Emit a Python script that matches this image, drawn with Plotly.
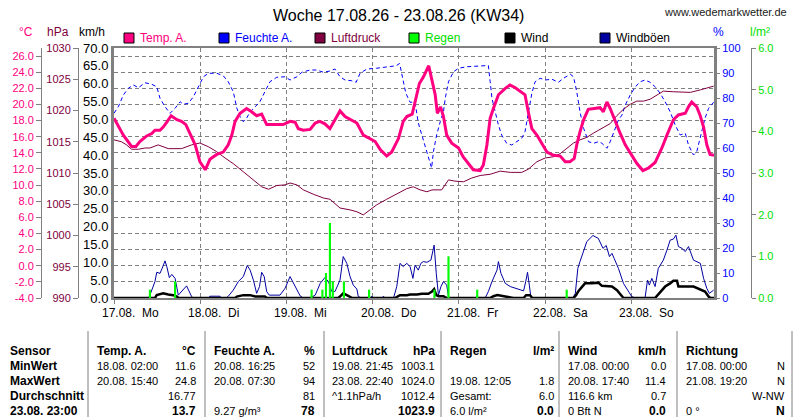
import plotly.graph_objects as go

# x values are hours since 17.08. 00:00
temp_h = [0, 2.6, 4.9, 6.1, 7.2, 9.1, 10.5, 11.4, 12.8, 13.7, 14.7, 15.9, 17.5, 18.8, 20.0, 21.2, 22.6, 23.9,
          25.4, 26.7, 28.6, 30.4, 31.8, 32.8, 33.7, 35.1, 36.9, 38.3, 39.7, 41.1, 42.5, 45.3, 47.1, 49.0, 50.4,
          51.3, 52.7, 54.6, 56.0, 57.3, 58.7, 60.1, 61.5, 62.9, 64.3, 65.7, 67.6, 69.4, 71.3, 72.7, 74.1, 75.9,
          77.3, 79.2, 80.5, 81.5, 83.0, 83.8, 85.0, 86.1, 87.6, 88.4, 89.4, 90.0, 90.9, 91.7, 92.6, 94.0, 95.9,
          97.2, 98.6, 100.0, 101.9, 102.8, 103.8, 104.7, 105.6, 107.0, 108.9, 110.2, 111.6, 113.0, 114.4, 115.3,
          116.3, 117.7, 119.1, 120.5, 122.3, 124.2, 125.6, 126.9, 128.1, 128.8, 129.7, 130.7, 132.0, 133.9, 135.3,
          136.2, 137.2, 138.1, 139.5, 140.9, 142.3, 143.7, 145.5, 147.2, 148.7, 150.6, 152.5, 153.9, 155.7, 157.1,
          159.0, 159.9, 160.8, 162.2, 163.1, 164.1, 165.0, 165.9, 167.0]
temp_c = [18.3, 16.2, 14.8, 14.8, 15.4, 16.1, 16.4, 16.8, 16.8, 17.2, 17.8, 18.6, 18.1, 17.9, 17.5, 16.4, 15.0, 12.9,
          11.9, 13.2, 13.8, 14.1, 15.0, 16.2, 17.9, 18.9, 19.5, 19.1, 18.6, 18.8, 17.5, 17.5, 17.5, 17.9, 17.8,
          17.0, 16.8, 16.9, 17.7, 17.9, 17.6, 17.0, 18.1, 19.2, 18.5, 18.2, 17.7, 16.2, 15.7, 15.4, 14.4, 13.6,
          14.1, 15.8, 17.9, 18.5, 18.8, 20.3, 22.6, 23.4, 24.8, 23.2, 21.2, 18.9, 19.7, 18.5, 16.2, 15.2, 14.6,
          13.5, 12.7, 11.9, 11.8, 12.5, 15.0, 18.3, 19.5, 21.2, 22.0, 22.4, 22.1, 21.6, 21.2, 19.1,
          17.0, 16.2, 15.2, 14.1, 13.7, 13.6, 12.9, 12.9, 13.3, 15.0, 16.6, 18.1, 19.4, 19.5, 19.6,
          19.1, 20.3, 19.5, 17.9, 16.4, 15.0, 14.0, 12.7, 11.8, 12.1, 12.8, 14.6, 16.2, 18.1, 18.7,
          18.9, 19.7, 20.3, 19.7, 18.7, 17.2, 15.0, 13.8, 13.7]

hum_h = [0, 1.2, 2.6, 4.0, 5.4, 6.8, 8.6, 10.5, 11.9, 12.8, 14.2, 15.6, 17.0, 18.4, 19.3, 20.7, 22.1, 23.5, 24.9,
         26.3, 28.6, 30.4, 31.8, 33.2, 34.2, 35.1, 36.0, 36.9, 37.9, 39.3, 40.6, 42.0, 43.4, 45.3, 47.6, 49.0,
         50.9, 52.3, 54.6, 56.4, 58.3, 60.1, 61.5, 62.9, 64.3, 66.2, 67.4, 68.5, 70.4, 73.1, 75.9, 78.5, 79.5,
         80.3, 81.2, 82.4, 83.8, 84.7, 86.1, 87.5, 88.4, 88.9, 89.8, 90.8, 91.7, 92.2, 93.1, 94.5, 95.9, 98.2,
         101.0, 103.3, 104.2, 104.7, 105.2, 106.1, 107.0, 107.9, 109.3, 110.7, 112.1, 113.5, 114.4, 115.3, 116.3,
         117.2, 118.6, 120.0, 121.9, 123.7, 125.1, 127.0, 127.9, 128.8, 129.7, 130.7, 132.1, 133.5, 134.8, 135.8,
         137.2, 138.1, 139.5, 140.4, 141.4, 142.3, 143.7, 145.1, 146.5, 147.8, 149.2, 150.6, 152.0, 153.4, 154.8,
         156.2, 157.6, 159.0, 159.9, 161.3, 162.2, 163.2, 164.5, 165.5, 166.9]
hum_pct = [73.9, 76.5, 81.2, 83.9, 85.2, 84.1, 86.1, 85.5, 84.5, 79.9, 76.5, 73.9, 75.9, 78.5, 77.5, 77.9, 80.5, 84.5,
           88.5, 89.9, 89.9, 88.9, 86.5, 82.5, 75.9, 72.5, 70.5, 71.9, 74.5, 76.5, 78.5, 82.5, 86.5, 88.3, 88.5,
           87.2, 88.5, 90.3, 91.2, 91.2, 90.3, 90.8, 91.6, 88.5, 87.2, 86.9, 86.3, 89.9, 91.6, 91.9, 92.5, 92.9,
           93.8, 88.0, 82.0, 78.3, 78.3, 70.0, 63.2, 57.2, 52.0, 58.5, 65.2, 70.5, 74.5, 79.9, 86.5, 90.5, 91.9,
           92.5, 92.8, 93.2, 93.0, 86.5, 79.9, 74.5, 69.2, 65.2, 61.9, 61.2, 62.5, 63.9, 66.5, 74.5, 81.9, 86.5,
           87.9, 87.2, 87.5, 86.3, 87.9, 89.5, 88.5, 82.5, 74.5, 67.9, 62.5, 61.9, 62.5, 61.9, 59.9, 62.5, 67.9,
           71.2, 73.2, 77.2, 81.2, 84.5, 86.5, 87.2, 86.3, 84.5, 81.9, 78.5, 74.5, 69.2, 65.2, 65.9, 61.2, 57.2,
           58.5, 63.9, 71.9, 75.9, 78.3]

press_h = [0, 2.1, 3.5, 4.9, 6.8, 8.6, 10.0, 12.3, 15.1, 18.8, 21.6, 23.9, 26.3, 28.6, 30.9, 33.2, 36.0, 38.8, 41.1,
           43.0, 45.3, 47.6, 49.0, 50.9, 52.7, 55.5, 58.3, 60.1, 62.9, 65.7, 67.6, 69.4, 71.3, 73.1, 75.9, 78.7,
           81.5, 83.3, 85.2, 87.1, 88.5, 91.2, 93.1, 94.9, 97.3, 99.6, 101.9, 104.7, 107.5, 110.3, 113.5, 115.3,
           117.7, 120.0, 122.3, 124.2, 126.0, 127.9, 129.7, 131.6, 133.5, 135.8, 138.1, 140.0, 141.8, 143.7, 145.5,
           147.4, 149.2, 151.5, 152.9, 155.7, 158.1, 160.4, 163.2, 165.0, 166.9]
press_hpa = [1015.3, 1015.0, 1014.5, 1013.8, 1013.8, 1014.0, 1014.0, 1014.5, 1013.9, 1013.9, 1014.5, 1014.8, 1014.2,
             1013.4, 1012.4, 1011.5, 1010.2, 1008.9, 1007.8, 1007.4, 1008.0, 1008.1, 1008.4, 1008.1, 1007.3, 1006.6,
             1006.0, 1005.8, 1004.4, 1004.1, 1003.8, 1003.3, 1004.2, 1004.9, 1005.8, 1006.7, 1007.5, 1007.8, 1007.3,
             1007.0, 1007.3, 1007.3, 1008.9, 1008.7, 1008.6, 1009.2, 1009.6, 1009.8, 1010.3, 1010.1, 1010.1, 1010.6,
             1011.8, 1012.4, 1012.6, 1013.1, 1013.9, 1014.8, 1015.3, 1015.7, 1016.4, 1017.2, 1017.9, 1019.2, 1020.2,
             1021.0, 1021.5, 1021.5, 1021.8, 1022.6, 1023.1, 1023.0, 1022.9, 1022.9, 1023.3, 1023.6, 1023.9]

gust_h = [0, 9.6, 10.0, 11.4, 11.9, 12.8, 13.4, 14.2, 14.7, 15.4, 16.1, 17.0, 17.9, 18.8, 20.2, 21.6, 22.1, 26.2,
          26.7, 29.5, 29.8, 31.2, 31.8, 33.2, 34.6, 36.0, 37.1, 37.9, 38.8, 39.7, 40.5, 41.1, 41.8, 42.5, 43.2,
          46.2, 47.6, 49.0, 50.4, 51.8, 52.7, 54.6, 56.0, 57.4, 58.7, 59.7, 60.6, 61.5, 62.9, 63.8, 64.8, 65.7,
          66.6, 67.6, 68.0, 69.0, 71.3, 71.8, 72.1, 74.6, 75.0, 75.4, 77.8, 78.7, 79.6, 80.5, 81.5, 82.4, 83.2,
          83.8, 84.7, 85.4, 86.1, 87.1, 88.2, 88.7, 89.1, 89.7, 90.3, 91.0, 91.7, 92.6, 93.1, 93.5, 103.3, 104.2,
          105.2, 106.6, 107.0, 107.7, 108.9, 110.3, 112.1, 114.0, 114.6, 115.1, 115.6, 116.0, 116.7, 127.7, 128.4,
          129.1, 129.7, 130.7, 131.6, 133.3, 134.8, 136.1, 137.0, 137.9, 138.6, 139.2, 140.4, 141.8, 143.2, 144.1,
          145.1, 147.8, 148.5, 149.0, 149.7, 150.6, 151.5, 152.9, 153.9, 154.8, 155.7, 156.4, 157.1, 158.1, 159.0,
          159.9, 161.3, 162.2, 163.2, 164.1, 165.0, 165.7, 166.9]
gust_kmh = [0, 0, 0.8, 4.6, 7.2, 6.9, 8.3, 10.4, 8.8, 5.7, 6.6, 5.5, 0.8, 1.8, 3.4, 0.4, 0, 0, 0.5, 0.5, 0, 0, 0.5,
            2.2, 4.6, 6.0, 9.1, 7.8, 5.0, 1.3, 3.2, 7.2, 6.0, 1.8, 0.8, 0.8, 2.7, 6.0, 3.2, 0.6, 0, 0, 0.8, 4.1,
            5.7, 4.6, 1.8, 1.8, 5.0, 11.6, 9.7, 6.0, 3.6, 2.5, 0.4, 0, 0, 0.5, 0, 0, 0.5, 0, 0, 3.2, 9.7, 8.8,
            9.7, 8.8, 5.5, 9.2, 7.8, 9.7, 10.2, 10.0, 10.6, 13.4, 14.8, 6.9, 0.8, 3.2, 4.6, 3.6, 0.4, 0, 0, 1.8,
            4.6, 7.8, 10.2, 6.9, 4.1, 3.2, 2.7, 2.0, 4.6, 7.2, 3.6, 0.4, 0, 0, 1.3, 8.3, 10.2, 13.0, 15.8, 17.5,
            16.7, 13.9, 14.7, 11.6, 12.5, 11.1, 8.3, 4.1, 1.8, 0.4, 0, 0, 5.0, 3.6, 5.5, 3.2, 8.3, 10.6, 13.4,
            16.2, 16.5, 17.6, 14.4, 13.9, 13.0, 14.4, 10.6, 10.2, 9.7, 5.5, 2.7, 1.3, 2.2]

wind_h = [0, 11.4, 11.9, 13.7, 15.1, 16.5, 17.5, 17.9, 33.7, 34.2, 36.0, 37.9, 39.3, 40.2, 42.0, 42.6, 62.4, 62.9,
          63.8, 64.8, 65.7, 66.3, 78.2, 79.6, 81.5, 82.4, 84.3, 85.7, 87.5, 88.5, 89.1, 89.7, 90.3, 91.7, 92.6,
          104.7, 105.6, 106.7, 108.9, 111.2, 114.0, 114.7, 115.8, 116.4, 127.9, 128.6, 129.3, 131.1, 133.0, 134.8,
          135.8, 138.6, 140.0, 141.4, 141.8, 150.6, 151.5, 153.4, 154.8, 155.7, 156.7, 157.1, 161.3, 163.2, 164.5,
          165.5, 166.0, 167.0]
wind_kmh = [0, 0, 0.8, 1.3, 1.0, 0.8, 0.4, 0, 0, 0.4, 0.8, 0.8, 0.4, 0.4, 0.4, 0, 0, 0.4, 1.3, 0.8, 0.4, 0, 0,
            0.8, 0.8, 1.0, 1.0, 1.2, 1.2, 1.8, 2.5, 0.8, 0.5, 0.5, 0, 0, 0.5, 0.8, 0.4, 0, 0, 0.8, 0.8, 0, 0,
            0.8, 2.0, 4.1, 4.1, 4.3, 3.4, 3.2, 2.2, 0.4, 0, 0, 1.0, 3.2, 4.1, 4.8, 4.8, 3.2, 3.2, 2.5, 1.8, 0.4,
            0, 0]

rain_h = [10.0, 17.0, 55.0, 58.0, 59.0, 60.1, 60.9, 64.0, 71.0, 89.2, 93.1, 101.1, 126.0]
rain_mm = [0.2, 0.4, 0.2, 0.2, 0.6, 1.8, 0.4, 0.4, 0.2, 0.2, 1.0, 0.2, 0.2]

day_hours = [0, 24, 48, 72, 96, 120, 144]
day_labels = ["17.08.\u00a0 Mo", "18.08.\u00a0 Di", "19.08.\u00a0 Mi", "20.08.\u00a0 Do",
              "21.08.\u00a0 Fr", "22.08.\u00a0 Sa", "23.08.\u00a0 So"]
temp_ticks = [-4, -2, 0, 2, 4, 6, 8, 10, 12, 14, 16, 18, 20, 22, 24, 26]

legend_names = ["Temp. A.", "Feuchte A.", "Luftdruck", "Regen", "Wind", "Windböen"]

# statistics table below the chart
row_labels = ["Sensor", "MinWert", "MaxWert", "Durchschnitt", "23.08. 23:00"]
col_heads = ["Temp. A.", "Feuchte A.", "Luftdruck", "Regen", "Wind", "Richtung"]
col_units = ["°C", "%", "hPa", "l/m²", "km/h", ""]
col_info = [
    ["18.08. 02:00", "20.08. 15:40", "", ""],
    ["20.08. 16:25", "20.08. 07:30", "", "9.27 g/m³"],
    ["19.08. 21:45", "23.08. 22:40", "^1.1hPa/h", ""],
    ["", "19.08. 12:05", "Gesamt:", "6.0 l/m²"],
    ["17.08. 00:00", "20.08. 17:40", "116.6 km", "0 Bft N"],
    ["17.08. 00:00", "21.08. 19:20", "", "0 °"],
]
col_values = [
    ["11.6", "24.8", "16.77", "13.7"],
    ["52", "94", "81", "78"],
    ["1003.1", "1024.0", "1012.4", "1023.9"],
    ["", "1.8", "6.0", "0.0"],
    ["0.0", "11.4", "0.7", "0.0"],
    ["N", "N", "W-NW", "N"],
]

W, H = 800, 417
GRAY = "#808080"
PINK = "#FF0080"
BLUE = "#0000FF"
MAROON = "#800040"
GREEN = "#00FF00"
NAVY = "#0000A0"
FONT = "Liberation Sans, Arial, sans-serif"


def px(x):
    return x / W


def py(y):
    return 1 - y / H


fig = go.Figure()

# wind (km/h axis)
fig.add_trace(go.Scatter(x=gust_h, y=gust_kmh, mode="lines", line=dict(color=NAVY, width=1), yaxis="y"))
fig.add_trace(go.Scatter(x=wind_h, y=wind_kmh, mode="lines", line=dict(color="black", width=2.5), yaxis="y"))
# rain bars (l/m2 axis)
fig.add_trace(go.Bar(x=rain_h, y=rain_mm, width=0.6, marker=dict(color=GREEN, line_width=0), yaxis="y2"))
# humidity (% axis)
fig.add_trace(go.Scatter(x=hum_h, y=hum_pct, mode="lines",
                         line=dict(color=BLUE, width=1, dash="4px,3px"), yaxis="y3"))
# pressure (hPa axis)
fig.add_trace(go.Scatter(x=press_h, y=press_hpa, mode="lines", line=dict(color=MAROON, width=1), yaxis="y4"))
# temperature (degC axis)
fig.add_trace(go.Scatter(x=temp_h, y=temp_c, mode="lines", line=dict(color=PINK, width=3), yaxis="y5"))

ydom = [py(298), py(48)]
small = dict(family=FONT, size=11)

fig.update_layout(
    width=W, height=H,
    margin=dict(l=0, r=0, t=0, b=0, autoexpand=False),
    paper_bgcolor="white", plot_bgcolor="white",
    showlegend=False,
    font=dict(family=FONT, size=12, color="black"),
    xaxis=dict(domain=[px(114), px(714)], range=[0, 167], tickvals=day_hours, showticklabels=False,
               ticks="outside", ticklen=4, tickcolor=GRAY, showgrid=True, gridcolor=GRAY,
               griddash="4px,3px", gridwidth=1, showline=True, linecolor=GRAY, linewidth=2,
               mirror=True, zeroline=False),
    yaxis=dict(domain=ydom, range=[0, 70], tick0=0, dtick=5, tickformat=".1f", ticks="",
               showline=True, linecolor=GRAY, linewidth=3, mirror=True, showgrid=False, zeroline=False,
               tickfont=dict(family=FONT, size=13, color="black")),
    yaxis2=dict(overlaying="y", side="right", anchor="free", position=px(751), range=[0, 6], tick0=0,
                dtick=1, tickformat=".1f", ticks="outside", ticklen=4, tickcolor=GRAY, showline=True,
                linecolor=GRAY, linewidth=1, showgrid=False, zeroline=False,
                tickfont=dict(small, color="#00E000")),
    yaxis3=dict(overlaying="y", side="right", anchor="x", range=[0, 100], tick0=0, dtick=10,
                ticks="outside", ticklen=5, tickcolor=GRAY, showline=False, showgrid=False,
                zeroline=False, tickfont=dict(small, color=BLUE)),
    yaxis4=dict(overlaying="y", side="left", anchor="free", position=px(78), range=[990, 1030], tick0=990,
                dtick=5, ticks="outside", ticklen=5, tickcolor=GRAY, showline=True, linecolor=GRAY,
                linewidth=1, showgrid=False, zeroline=False, tickfont=dict(small, color=MAROON)),
    yaxis5=dict(overlaying="y", side="left", anchor="free", position=px(41), range=[-4, 27],
                tickvals=temp_ticks, ticktext=[f"{v:.1f}" for v in temp_ticks],
                ticks="outside", ticklen=5, tickcolor=GRAY, showline=True, linecolor=GRAY, linewidth=1,
                showgrid=True, gridcolor=GRAY, griddash="4px,3px", gridwidth=1, zeroline=False,
                tickfont=dict(small, color=PINK)),
)

ann = []
shapes = []

# title and site name
ann.append(dict(text="Woche 17.08.26 - 23.08.26 (KW34)", x=px(398), y=py(15), xanchor="center",
                yanchor="middle", font=dict(family=FONT, size=16, color="black")))
ann.append(dict(text="www.wedemarkwetter.de", x=px(789), y=py(12), xanchor="right", yanchor="middle",
                font=dict(family=FONT, size=11, color="#202020")))

# axis unit labels
for txt, x, col in [("°C", 26, PINK), ("hPa", 58, MAROON), ("km/h", 92, "black"),
                    ("%", 718, BLUE), ("l/m²", 760, "#00E000")]:
    ann.append(dict(text=txt, x=px(x), y=py(32), xanchor="center", yanchor="middle",
                    font=dict(family=FONT, size=12, color=col)))

# legend: coloured squares plus names
legend_fill = [PINK, BLUE, MAROON, GREEN, "black", NAVY]
legend_text = [PINK, BLUE, MAROON, "#00E000", "black", "black"]
legend_x = [124, 219, 315, 409, 505, 600]
for name, fill, tcol, lx in zip(legend_names, legend_fill, legend_text, legend_x):
    shapes.append(dict(type="rect", xref="paper", yref="paper", x0=px(lx), x1=px(lx + 10),
                       y0=py(43), y1=py(33), fillcolor=fill, line=dict(color="black", width=1)))
    ann.append(dict(text=name, x=px(lx + 14), y=py(38), xanchor="left", yanchor="middle",
                    font=dict(family=FONT, size=12, color=tcol)))

# day labels under the x axis
for h, lab in zip(day_hours, day_labels):
    ann.append(dict(text=lab, xref="x", x=h, y=py(313), xanchor="left", yanchor="middle", xshift=-14,
                    font=dict(family=FONT, size=12, color="black")))

# statistics table
row_y = [351, 366, 381, 396, 411]
sep_x = [88, 205, 324, 441, 559, 677, 792]
left_x = [95, 212, 330, 448, 566, 684]
right_x = [198, 317, 437, 556, 668, 787]
tfont = dict(family=FONT, size=11, color="black")
bfont = dict(family=FONT, size=12, color="black")
for sx in sep_x:
    shapes.append(dict(type="line", xref="paper", yref="paper", x0=px(sx), x1=px(sx), y0=py(331), y1=0,
                       line=dict(color=GRAY, width=1)))
for i, lab in enumerate(row_labels):
    ann.append(dict(text="<b>" + lab + "</b>", x=px(8), y=py(row_y[i]), xanchor="left", yanchor="middle",
                    font=bfont))
for c in range(len(col_heads)):
    ann.append(dict(text="<b>" + col_heads[c] + "</b>", x=px(left_x[c]), y=py(row_y[0]), xanchor="left",
                    yanchor="middle", font=bfont))
    if col_units[c]:
        ann.append(dict(text="<b>" + col_units[c] + "</b>", x=px(right_x[c]), y=py(row_y[0]),
                        xanchor="right", yanchor="middle", font=bfont))
    for r in range(4):
        if col_info[c][r]:
            ann.append(dict(text=col_info[c][r], x=px(left_x[c]), y=py(row_y[r + 1]), xanchor="left",
                            yanchor="middle", font=tfont))
        if col_values[c][r]:
            val = col_values[c][r]
            f = tfont
            if r == 3:
                val = "<b>" + val + "</b>"
                f = bfont
            ann.append(dict(text=val, x=px(right_x[c]), y=py(row_y[r + 1]), xanchor="right",
                            yanchor="middle", font=f))

for a in ann:
    a.setdefault("xref", "paper")
    a.setdefault("yref", "paper")
    a["showarrow"] = False

fig.update_layout(annotations=ann, shapes=shapes)

# drop the browser's default body margin so the figure sits at the page origin
fig.write_html("out.html", config={"displayModeBar": False},
               post_script="document.body.style.margin='0';")
